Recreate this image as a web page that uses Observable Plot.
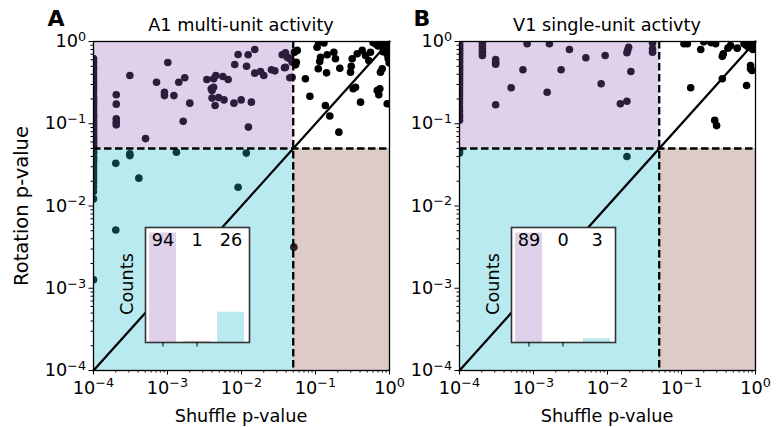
<!DOCTYPE html>
<html><head><meta charset="utf-8">
<script src="https://cdn.jsdelivr.net/npm/d3@7"></script>
<script src="https://cdn.jsdelivr.net/npm/@observablehq/plot@0.6"></script>
<style>
body{margin:0;background:#fff;}
#wrap{position:relative;width:784px;height:427px;font-family:"DejaVu Sans",sans-serif;color:#000;overflow:hidden;}
#wrap svg{position:absolute;left:0;top:0;}
.lbl{position:absolute;white-space:nowrap;line-height:1;font-size:17.7px;}
</style></head><body><div id="wrap"></div>
<script>
// ---------------- data ----------------
const threshold = 0.05;
const panelTitles = ["A1 multi-unit activity", "V1 single-unit activty"];
const panelLetters = ["A", "B"];
const majorTicks = [1e-4, 1e-3, 1e-2, 1e-1, 1];
const insetCategories = ["Shuffle only", "Rotation only", "Both"];
const countsA = [94, 1, 26];
const countsB = [89, 0, 3];

// panel A points: [shuffle p, rotation p]
const pointsA = [
  // shuffle-significant only (purple region)
  [3.1e-4,0.386],[1.01e-3,0.555],[7.1e-4,0.32],[9.1e-4,0.242],[9.1e-4,0.22],[1.22e-3,0.22],[1.42e-3,0.32],[1.71e-3,0.362],
  [2.0e-3,0.178],[1.63e-3,0.107],[5.05e-4,0.066],[2.03e-4,0.225],[2.03e-4,0.173],[2.03e-4,0.115],[2.03e-4,0.104],[2.03e-4,0.097],
  [3.4e-3,0.345],[4.2e-3,0.352],[4.5e-3,0.386],[5.6e-3,0.375],[6.6e-3,0.345],[3.9e-3,0.266],[4.2e-3,0.278],[4.0e-3,0.254],
  [4.0e-3,0.205],[4.9e-3,0.208],[5.8e-3,0.195],[4.4e-3,0.167],[7.9e-3,0.178],[9.9e-3,0.195],[1.36e-2,0.183],[1.24e-2,0.091],
  [8.1e-3,0.525],[1.17e-2,0.50],[9.0e-3,0.695],[1.23e-2,0.69],[1.51e-2,0.80],[1.51e-2,0.412],[1.81e-2,0.432],[2.0e-2,0.386],
  [2.54e-2,0.453],[2.82e-2,0.44],[3.81e-2,0.479],[3.55e-2,0.69],[3.93e-2,0.73],[4.15e-2,0.644],[4.36e-2,0.627],[4.5e-2,0.362],
  [4.84e-2,0.368],[3.93e-2,0.487],[4.84e-2,0.56],
  [1e-4,0.62],[1e-4,0.58],[1e-4,0.55],[1e-4,0.5],[1e-4,0.47],[1e-4,0.44],[1e-4,0.41],[1e-4,0.38],[1e-4,0.35],[1e-4,0.33],
  [1e-4,0.31],[1e-4,0.29],[1e-4,0.27],[1e-4,0.25],[1e-4,0.23],[1e-4,0.21],[1e-4,0.2],[1e-4,0.19],[1e-4,0.18],[1e-4,0.17],
  [1e-4,0.16],[1e-4,0.15],[1e-4,0.14],[1e-4,0.13],[1e-4,0.125],[1e-4,0.12],[1e-4,0.11],[1e-4,0.105],[1e-4,0.1],[1e-4,0.095],
  [1e-4,0.09],[1e-4,0.085],[1e-4,0.08],[1e-4,0.076],[1e-4,0.072],[1e-4,0.068],[1e-4,0.065],[1e-4,0.062],[1e-4,0.059],
  [1e-4,0.057],[1e-4,0.055],[1e-4,0.053],[1e-4,0.052],
  // both significant (cyan region)
  [2.0e-4,0.033],[3.1e-4,0.043],[3.1e-4,0.041],[1.32e-3,0.045],[4.1e-4,0.0218],[1.16e-2,0.044],[9.0e-3,0.0169],[2.0e-4,0.0051],
  [1e-4,0.047],[1e-4,0.045],[1e-4,0.043],[1e-4,0.04],[1e-4,0.038],[1e-4,0.036],[1e-4,0.034],[1e-4,0.031],[1e-4,0.029],
  [1e-4,0.027],[1e-4,0.025],[1e-4,0.023],[1e-4,0.021],[1e-4,0.019],[1e-4,0.017],[1e-4,0.015],[1e-4,0.0122],[1e-4,0.00127],
  // rotation-significant only (brown region)
  [0.051,0.00316],
  // neither
  [0.052,0.74],[0.0537,0.52],[0.0566,0.78],[0.055,0.56],[0.105,0.85],[0.117,0.644],[0.114,0.571],[0.144,0.69],[0.177,0.74],
  [0.186,0.616],[0.109,0.466],[0.141,0.416],[0.213,0.473],[0.313,0.616],[0.304,0.50],[0.297,0.424],[0.366,0.71],[0.428,0.78],
  [0.474,0.676],[0.525,0.587],[0.553,0.74],[0.073,0.352],[0.084,0.216],[0.323,0.266],[0.347,0.278],[0.406,0.183],[0.682,0.254],
  [0.717,0.225],[0.74,0.266],[0.931,0.175],[0.136,0.167],[0.156,0.124],[0.207,0.079],[0.755,0.424],[0.797,0.466],
  [0.65,0.93],[0.7,0.88],[0.75,0.95],[0.8,0.9],[0.85,0.97],[0.9,0.85],[0.95,0.92],[0.98,0.98],[0.88,0.78],[0.93,0.7],
  [0.97,0.8],[0.82,0.75],[0.96,0.62],[0.99,0.55],[0.92,0.98],[0.78,0.99],[0.6,0.97],[0.99,0.88],[0.11,0.98],[0.13,0.96]
];

// panel B points: [shuffle p, rotation p]
const pointsB = [
  [2.04e-4,0.89],[2.04e-4,0.815],[2.04e-4,0.74],[2.04e-4,0.676],[3.08e-4,0.604],[3.08e-4,0.56],[3.08e-4,0.53],[8.2e-4,0.94],
  [1.64e-3,0.94],[3.06e-3,0.80],[5.1e-3,0.634],[9.3e-3,0.676],[1.93e-2,0.85],[1.87e-2,0.78],[1.83e-2,0.73],[4.06e-2,0.815],
  [4.06e-2,0.74],[7.2e-4,0.453],[2.36e-3,0.453],[2.07e-2,0.432],[5.0e-4,0.274],[1.53e-3,0.242],[8.2e-3,0.306],[3.08e-4,0.17],
  [1.49e-2,0.175],[1.83e-2,0.188],[2.04e-4,0.97],[4.06e-2,0.96],
  [1e-4,0.97],[1e-4,0.93],[1e-4,0.9],[1e-4,0.86],[1e-4,0.83],[1e-4,0.8],[1e-4,0.77],[1e-4,0.74],[1e-4,0.71],[1e-4,0.68],
  [1e-4,0.65],[1e-4,0.62],[1e-4,0.6],[1e-4,0.57],[1e-4,0.55],[1e-4,0.52],[1e-4,0.5],[1e-4,0.48],[1e-4,0.46],[1e-4,0.44],
  [1e-4,0.42],[1e-4,0.4],[1e-4,0.38],[1e-4,0.36],[1e-4,0.34],[1e-4,0.32],[1e-4,0.3],[1e-4,0.28],[1e-4,0.26],[1e-4,0.24],
  [1e-4,0.22],[1e-4,0.2],[1e-4,0.18],[1e-4,0.16],[1e-4,0.145],[1e-4,0.13],[1e-4,0.12],[1e-4,0.11],
  [1e-4,0.047],[1e-4,0.044],[1.83e-2,0.040],
  [0.108,0.94],[0.120,0.94],[0.182,0.80],[0.289,0.94],[0.367,0.71],[0.356,0.66],[0.424,0.83],[0.46,0.89],[0.567,0.83],
  [0.70,0.94],[0.75,0.9],[0.8,0.86],[0.85,0.97],[0.9,0.92],[0.95,0.95],[0.92,0.8],[0.97,0.88],[0.99,0.99],[0.88,0.99],
  [0.857,0.51],[0.857,0.466],[0.90,0.444],[0.133,0.274],[0.356,0.352],[0.757,0.292],[0.281,0.11],[0.298,0.095],[0.2,0.99],[0.25,0.97]
];

// ---------------- styles ----------------
const W = 784, H = 427;
const FRAME_TOP = 41, FRAME_BOTTOM = 370;
const panelLeft = [93, 459];
const FRAME_W = 296;
const regionFill = {purple: "#e0d1ea", cyan: "#b9eaef", brown: "#dccbc8"};
const dotFill = {purple: "#2c1d3d", cyan: "#0c3b3e", brown: "#2e2220", none: "#000000"};
const FS = 17.7;

function regionOf(d) {
  const sx = d[0] < threshold, sy = d[1] < threshold;
  if (sx && !sy) return "purple";
  if (sx && sy) return "cyan";
  if (!sx && sy) return "brown";
  return "none";
}
const fmtPow = v => { const e = Math.round(Math.log10(v)); return "10^" + (e < 0 ? "\u2212" + (-e) : String(e)); };

function supTicks(svg) {
  d3.select(svg).selectAll("text").each(function () {
    const t = this.textContent;
    const m = /^10\^(.+)$/.exec(t);
    if (!m) return;
    const sel = d3.select(this);
    sel.text(null);
    sel.append("tspan").text("10");
    sel.append("tspan").attr("dy", "-0.5em").attr("font-size", "0.72em").text(m[1]);
  });
}

const wrap = document.getElementById("wrap");
const lo = majorTicks[0], hi = majorTicks[majorTicks.length - 1];
const minorTicks = [];
for (let e = Math.log10(lo); e < Math.log10(hi); e++) for (let k = 2; k <= 9; k++) minorTicks.push(k * Math.pow(10, e));

function mainPanel(points, left) {
  const right = left + FRAME_W;
  const reg = [
    {x1: lo, x2: threshold, y1: threshold, y2: hi, k: "purple"},
    {x1: lo, x2: threshold, y1: lo, y2: threshold, k: "cyan"},
    {x1: threshold, x2: hi, y1: lo, y2: threshold, k: "brown"}
  ];
  const diag = [[lo, lo], [hi, hi]];
  const marks = [];
  for (const r of reg) marks.push(Plot.rect([r], {x1: "x1", x2: "x2", y1: "y1", y2: "y2", fill: regionFill[r.k]}));
  for (const k of ["purple", "cyan", "brown", "none"]) {
    marks.push(Plot.dot(points.filter(d => regionOf(d) === k), {x: d => d[0], y: d => d[1], r: 3.8, fill: dotFill[k], stroke: "none", clip: true}));
  }
  marks.push(
    Plot.ruleX([threshold], {stroke: "#000", strokeWidth: 2.3, strokeDasharray: "7.5,3.5"}),
    Plot.ruleY([threshold], {stroke: "#000", strokeWidth: 2.3, strokeDasharray: "7.5,3.5"}),
    Plot.line(diag, {x: d => d[0], y: d => d[1], stroke: "#000", strokeWidth: 2.3}),
    Plot.frame({stroke: "#000", strokeWidth: 1.3}),
    Plot.axisX({ticks: majorTicks, tickFormat: fmtPow, tickSize: 4.5, tickPadding: 6, label: null, fontSize: FS}),
    Plot.axisX({ticks: minorTicks, tickFormat: () => "", tickSize: 2.5, label: null}),
    Plot.axisY({ticks: majorTicks, tickFormat: fmtPow, tickSize: 4.5, tickPadding: 3, label: null, fontSize: FS}),
    Plot.axisY({ticks: minorTicks, tickFormat: () => "", tickSize: 2.5, label: null})
  );
  const svg = Plot.plot({
    width: W, height: H,
    marginLeft: left, marginRight: W - right, marginTop: FRAME_TOP, marginBottom: H - FRAME_BOTTOM,
    x: {type: "log", domain: [lo, hi]},
    y: {type: "log", domain: [lo, hi]},
    style: {background: "transparent", overflow: "visible", fontFamily: "DejaVu Sans", fontSize: FS + "px", color: "#000"},
    marks
  });
  supTicks(svg);
  wrap.appendChild(svg);
}

function inset(counts, left) {
  const data = insetCategories.map((c, i) => ({cat: c, n: counts[i]}));
  const svg = Plot.plot({
    width: W, height: H,
    marginLeft: left, marginRight: W - (left + 104), marginTop: 227, marginBottom: H - 342,
    x: {type: "band", domain: insetCategories, paddingInner: 0.2, paddingOuter: 0.1},
    y: {domain: [0, d3.max(counts) * 1.05], axis: null},
    color: {domain: insetCategories, range: [regionFill.purple, regionFill.brown, regionFill.cyan]},
    style: {background: "transparent", overflow: "visible", fontFamily: "DejaVu Sans", fontSize: FS + "px", color: "#000"},
    marks: [
      Plot.frame({fill: "#fff", stroke: "none"}),
      Plot.barY(data, {x: "cat", y: "n", fill: "cat"}),
      Plot.text(data, {x: "cat", text: d => String(d.n), frameAnchor: "top", lineAnchor: "middle", dy: 13, fontSize: FS, fill: "#000"}),
      Plot.frame({stroke: "#333", strokeWidth: 1.6}),
      Plot.axisX({ticks: insetCategories.slice(0, 2), tickFormat: () => "", tickSize: 4.5, label: null})
    ]
  });
  wrap.appendChild(svg);
}

function label(text, x, y, opts = {}) {
  const d = document.createElement("div");
  d.className = "lbl";
  d.textContent = text;
  d.style.left = x + "px";
  d.style.top = y + "px";
  if (opts.size) d.style.fontSize = opts.size + "px";
  if (opts.bold) d.style.fontWeight = "bold";
  d.style.transform = opts.rotate ? "translate(-50%,-50%) rotate(-90deg)" : "translate(-50%,-50%)";
  wrap.appendChild(d);
}

mainPanel(pointsA, panelLeft[0]);
mainPanel(pointsB, panelLeft[1]);
inset(countsA, panelLeft[0] + 52);
inset(countsB, panelLeft[1] + 52);

for (let i = 0; i < 2; i++) {
  const cx = panelLeft[i] + FRAME_W / 2;
  label(panelTitles[i], cx, 26);
  label(panelLetters[i], panelLeft[i] - 37, 19, {size: 22, bold: true});
  label("Shuffle p-value", cx, 417);
  label("Counts", panelLeft[i] + 35, 284, {rotate: true});
}
label("Rotation p-value", 22, 206, {rotate: true, size: 19.5});
</script></body></html>
